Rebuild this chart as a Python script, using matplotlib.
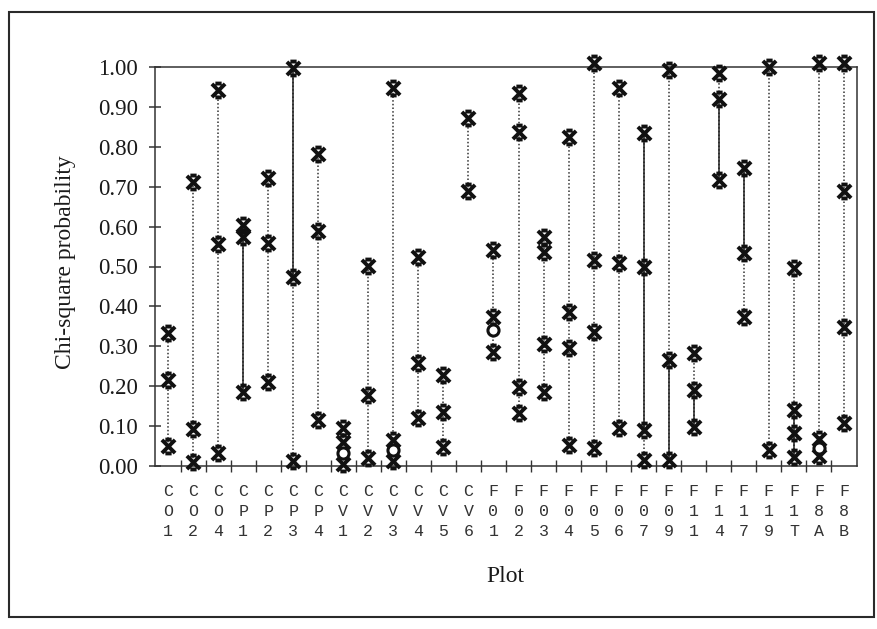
import matplotlib
matplotlib.use("Agg")
import matplotlib.pyplot as plt
from matplotlib.path import Path
from matplotlib.patches import Rectangle
import numpy as np

# ---------------- data ----------------
plots = ["CO1", "CO2", "CO4", "CP1", "CP2", "CP3", "CP4", "CV1", "CV2", "CV3",
         "CV4", "CV5", "CV6", "F01", "F02", "F03", "F04", "F05", "F06", "F07",
         "F09", "F11", "F14", "F17", "F19", "F1T", "F8A", "F8B"]

cross_values = [
    [0.333, 0.216, 0.050],          # CO1
    [0.713, 0.092, 0.011],          # CO2
    [0.942, 0.556, 0.032],          # CO4
    [0.604, 0.575, 0.186],          # CP1
    [0.721, 0.560, 0.211],          # CP2
    [0.997, 0.474, 0.013],          # CP3
    [0.782, 0.589, 0.115],          # CP4
    [0.095, 0.060, 0.006],          # CV1
    [0.501, 0.178, 0.019],          # CV2
    [0.947, 0.066, 0.013],          # CV3
    [0.525, 0.257, 0.120],          # CV4
    [0.228, 0.136, 0.048],          # CV5
    [0.871, 0.688],                 # CV6
    [0.541, 0.374, 0.286],          # F01
    [0.934, 0.838, 0.199, 0.132],   # F02
    [0.575, 0.537, 0.307, 0.186],   # F03
    [0.825, 0.387, 0.295, 0.053],   # F04
    [1.009, 0.516, 0.337, 0.044],   # F05
    [0.947, 0.508, 0.094],          # F06
    [0.834, 0.500, 0.090, 0.015],   # F07
    [0.992, 0.266, 0.015],          # F09
    [0.282, 0.190, 0.098],          # F11
    [0.984, 0.921, 0.717],          # F14
    [0.746, 0.533, 0.374],          # F17
    [1.000, 0.040],                 # F19
    [0.495, 0.140, 0.082, 0.022],   # F1T
    [1.010, 0.068, 0.024],          # F8A
    [1.009, 0.688, 0.349, 0.107],   # F8B
]

circle_plots = ["CV1", "CV3", "F01", "F8A"]
circle_values = [0.033, 0.040, 0.340, 0.045]

# segments drawn solid (plot, upper value, lower value); others dotted
solid_plots = ["CP1", "CP3", "F07", "F09", "F11", "F14", "F17", "F1T"]
solid_upper = [0.604, 0.997, 0.834, 0.266, 0.190, 0.921, 0.746, 0.140]
solid_lower = [0.186, 0.474, 0.090, 0.015, 0.098, 0.717, 0.533, 0.022]

yticks = [0.0, 0.1, 0.2, 0.3, 0.4, 0.5, 0.6, 0.7, 0.8, 0.9, 1.0]

# ---------------- figure ----------------
W, H = 877, 629
fig = plt.figure(figsize=(W / 100, H / 100), dpi=100)
fig.patch.set_facecolor("white")

L, R, T, B = 155, 857, 67, 466
ax = fig.add_axes([L / W, 1 - B / H, (R - L) / W, (B - T) / H])

# scanned frame around the whole figure
fig.patches.append(Rectangle((9 / W, 1 - 617 / H), (874 - 9) / W, (617 - 12) / H,
                             transform=fig.transFigure, fill=False,
                             edgecolor="#2a2a2a", linewidth=1.5))

# custom bold "X" marker with short flared bars at top and bottom
mverts = [(-0.95, 0.95), (0.95, -0.95),
          (0.95, 0.95), (-0.95, -0.95),
          (-0.45, 1.0), (0.45, 1.0),
          (-0.45, -1.0), (0.45, -1.0),
          (-0.25, 0.0), (0.25, 0.0)]
mcodes = [Path.MOVETO, Path.LINETO] * 5
xmarker = Path(mverts, mcodes)

xpos = {p: i for i, p in enumerate(plots)}

for i, vals in enumerate(cross_values):
    lo, hi = min(vals), max(vals)
    ax.plot([i, i], [lo, hi], color="#333333", linewidth=1.1,
            linestyle=(0, (1, 1.4)), zorder=2, clip_on=False)

for p, up, low in zip(solid_plots, solid_upper, solid_lower):
    i = xpos[p]
    ax.plot([i, i], [low, up], color="#222222", linewidth=1.1, zorder=2.5,
            clip_on=False)

for i, vals in enumerate(cross_values):
    ax.plot([i] * len(vals), vals, linestyle="none", marker=xmarker,
            markersize=10, markeredgewidth=2.8, color="#111111",
            zorder=4, clip_on=False)

ax.plot([xpos[p] for p in circle_plots], circle_values, linestyle="none",
        marker="o", markersize=8, markeredgewidth=2.2,
        markerfacecolor="white", markeredgecolor="#111111", zorder=5,
        clip_on=False)

ax.set_xlim(-0.52, len(plots) - 0.48)
ax.set_ylim(0, 1.0)

for s in ax.spines.values():
    s.set_color("#333333")
    s.set_linewidth(1.1)

ax.set_yticks(yticks)
ax.set_yticklabels([f"{v:.2f}" for v in yticks], family="Liberation Serif",
                   fontsize=16.5, color="#1a1a1a")
ax.tick_params(axis="y", direction="inout", length=9, width=1.1, pad=8,
               color="#333333")

ax.set_xticks(np.arange(len(plots)))
ax.set_xticklabels(["\n".join(p) for p in plots], family="Liberation Mono",
                   fontsize=12, color="#333333", linespacing=1.4)
ax.tick_params(axis="x", which="major", length=0, pad=13)
ax.set_xticks(np.arange(len(plots) - 1) + 0.5, minor=True)
ax.tick_params(axis="x", which="minor", direction="inout", length=8,
               width=1.0, color="#333333")

fig.text(65 / W, 1 - 262 / H, "Chi-square probability", rotation=90,
         ha="center", va="center", family="Liberation Serif", fontsize=17,
         color="#1a1a1a")
fig.text(505 / W, 1 - 577 / H, "Plot", ha="center", va="center",
         family="Liberation Serif", fontsize=17, color="#1a1a1a")

fig.savefig("out.png", dpi=100, facecolor="white")
